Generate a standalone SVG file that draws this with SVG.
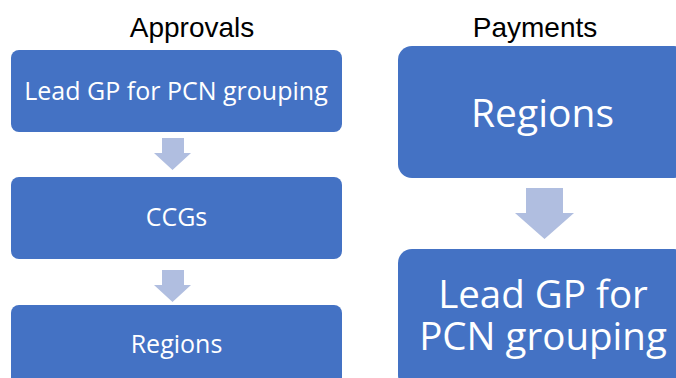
<svg xmlns="http://www.w3.org/2000/svg" width="676" height="378" viewBox="0 0 676 378">
<style>
.box{fill:#4472C4}
.arr{fill:#B0BEE0}
.hd{font-family:"Liberation Sans",Arial,sans-serif;font-size:28px;fill:#000;text-anchor:middle}
.t{font-family:"Open Sans","Noto Sans",sans-serif;fill:#fff;text-anchor:middle}
</style>
<rect width="676" height="378" fill="#fff"/>
<text class="hd" x="192" y="37">Approvals</text>
<text class="hd" x="535" y="37">Payments</text>
<g id="connectors">
<path class="arr" d="M162,138 H184 V153 H191 L172.5,170 L154,153 H162 Z"/>
<path class="arr" d="M162,270 H184 V285 H191 L172.5,302 L154,285 H162 Z"/>
<path class="arr" d="M526,188 H563 V213 H574 L544.5,239 L515,213 H526 Z"/>
</g>
<g id="a1">
<rect class="box" x="11" y="50" width="331" height="82" rx="8"/>
<text class="t" x="176" y="100" font-size="25">Lead GP for PCN grouping</text>
</g>
<g id="a2">
<rect class="box" x="11" y="177" width="331" height="82" rx="8"/>
<text class="t" x="176.5" y="226" font-size="25">CCGs</text>
</g>
<g id="a3">
<rect class="box" x="11" y="305" width="331" height="82" rx="8"/>
<text class="t" x="176.5" y="353" font-size="25">Regions</text>
</g>
<g id="p1">
<rect class="box" x="398" y="46" width="290" height="132" rx="14"/>
<text class="t" x="542.5" y="127" font-size="39">Regions</text>
</g>
<g id="p2">
<rect class="box" x="398" y="249" width="290" height="140" rx="14"/>
<text class="t" font-size="38.5"><tspan x="543" y="308">Lead GP for</tspan><tspan x="543" y="350">PCN grouping</tspan></text>
</g>
</svg>
